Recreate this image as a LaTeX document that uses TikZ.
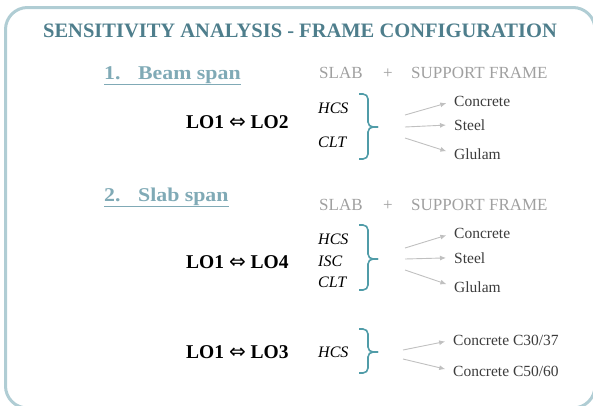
\documentclass[tikz,border=0pt]{standalone}
\usepackage{fontspec}
\setmainfont{Liberation Serif}
\newfontfamily\symfont{DejaVu Sans}
\newfontfamily\headfont[FakeStretch=1.12]{Liberation Serif}
\usetikzlibrary{arrows.meta}
\definecolor{framecol}{RGB}{176,205,212}
\definecolor{titlecol}{RGB}{78,126,140}
\definecolor{headcol}{RGB}{128,170,182}
\definecolor{bracecol}{RGB}{80,156,168}
\definecolor{slabgray}{RGB}{160,160,160}
\definecolor{arrowgray}{RGB}{192,192,192}
\definecolor{labelgray}{RGB}{60,60,60}
\tikzset{
  txt/.style={inner sep=0pt, anchor=base west},
  titletxt/.style={inner sep=0pt, anchor=base, text=titlecol, font=\fontsize{20.5}{24}\selectfont\bfseries},
  headtxt/.style={txt, text=headcol, font=\headfont\fontsize{19.5}{22}\selectfont\bfseries},
  slabtxt/.style={txt, text=slabgray, font=\fontsize{17}{20}\selectfont},
  lotxt/.style={txt, font=\fontsize{19.5}{22}\selectfont\bfseries},
  slabtype/.style={txt, font=\fontsize{16}{19}\selectfont\itshape},
  mattxt/.style={txt, text=labelgray, font=\fontsize{15.5}{18}\selectfont},
  brace/.style={draw=bracecol, line width=1.6pt, rounded corners=5pt},
  matarrow/.style={draw=arrowgray, line width=0.9pt, shorten >=8pt, -{Latex[length=6pt,width=5pt]}}
}
\def\slabbrace(#1:#2:#3){%
  \draw[brace] (359,#1) -- (368,#1) -- (368,#2) -- (378,#2);
  \draw[brace] (359,#3) -- (368,#3) -- (368,#2) -- (378,#2);}
\def\lolink#1{LO1 {\symfont\mdseries\fontsize{20}{22}\selectfont ⇔} LO#1}

\begin{document}
\begin{tikzpicture}[x=1pt,y=-1pt]
			%%%%% FRAME %%%%%
			\useasboundingbox (0,0) rectangle (593,405);
			\draw[framecol, line width=3pt, rounded corners=22pt] (5.5,7.5) rectangle (595,408);
			
			\node[titletxt] (title) at (300,37) {SENSITIVITY ANALYSIS - FRAME CONFIGURATION};
			
			%%%%% 1. BEAM SPAN %%%%%
			\node[headtxt] (beam) at (104,79) {\underline{1.\hspace{0.9em}Beam span}};
			\node[slabtxt] (slabA) at (319,78) {SLAB};
			\node[slabtxt] (plusA) at (383,78) {+};
			\node[slabtxt] (frameA) at (411,78) {SUPPORT FRAME};
			
			\node[lotxt] (loA) at (186,128) {\lolink{2}};
			\node[slabtype] (hcsA) at (318,113) {HCS};
			\node[slabtype] (cltA) at (318,147) {CLT};
			\slabbrace(94:127:159)
			
			\node[mattxt] (concA) at (454,106) {Concrete};
			\node[mattxt] (steelA) at (454,130) {Steel};
			\node[mattxt] (glulA) at (454,159) {Glulam};
			\coordinate (sA1) at (405,115);
			\coordinate (sA2) at (405,127);
			\coordinate (sA3) at (405,138);
			\draw[matarrow] (sA1) -- (concA.west);
			\draw[matarrow] (sA2) -- (steelA.west);
			\draw[matarrow] (sA3) -- (glulA.west);
			
			%%%%% 2. SLAB SPAN %%%%%
			\node[headtxt] (slab) at (104,201) {\underline{2.\hspace{0.9em}Slab span}};
			\node[slabtxt] (slabB) at (319,210) {SLAB};
			\node[slabtxt] (plusB) at (383,210) {+};
			\node[slabtxt] (frameB) at (411,210) {SUPPORT FRAME};
			
			\node[lotxt] (loB) at (186,268) {\lolink{4}};
			\node[slabtype] (hcsB) at (318,244) {HCS};
			\node[slabtype] (iscB) at (318,266) {ISC};
			\node[slabtype] (cltB) at (318,287) {CLT};
			\slabbrace(225:259:290)
			
			\node[mattxt] (concB) at (454,238) {Concrete};
			\node[mattxt] (steelB) at (454,263) {Steel};
			\node[mattxt] (glulB) at (454,292) {Glulam};
			\coordinate (sB1) at (405,248);
			\coordinate (sB2) at (405,259);
			\coordinate (sB3) at (405,270);
			\draw[matarrow] (sB1) -- (concB.west);
			\draw[matarrow] (sB2) -- (steelB.west);
			\draw[matarrow] (sB3) -- (glulB.west);
			
			%%%%% LO1 - LO3 %%%%%
			\node[lotxt] (loC) at (186,358) {\lolink{3}};
			\node[slabtype] (hcsC) at (318,357) {HCS};
			\slabbrace(329:352:373)
			
			\node[mattxt] (c30) at (453,345) {Concrete C30/37};
			\node[mattxt] (c50) at (453,376) {Concrete C50/60};
			\coordinate (sC1) at (403,350);
			\coordinate (sC2) at (403,359);
			\draw[matarrow] (sC1) -- (c30.west);
			\draw[matarrow] (sC2) -- (c50.west);
\end{tikzpicture}
\end{document}
